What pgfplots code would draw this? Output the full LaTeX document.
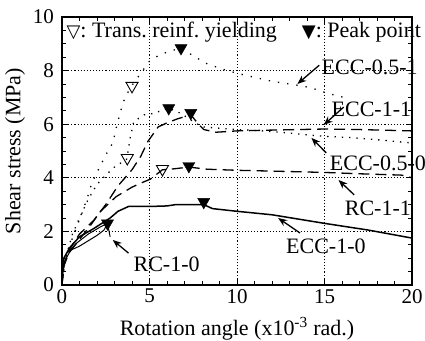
\documentclass[border=0pt]{standalone}
\usepackage{pgfplots}
\pgfplotsset{compat=1.18}
\usepackage{fontspec}
\setmainfont{Liberation Serif}
\newfontfamily\symf{DejaVu Sans}
\usetikzlibrary{arrows.meta}
\begin{document}
\frenchspacing
\fontsize{22bp}{26bp}\selectfont
\begin{tikzpicture}
\begin{axis}[
  scale only axis, width=350bp, height=268bp,
  xmin=0, xmax=20, ymin=0, ymax=10,
  xtick={0,5,10,15,20}, ytick={0,2,4,6,8,10},
  minor x tick num=4, minor y tick num=3,
  xtick pos=both, ytick pos=both, tick align=inside,
  major tick length=6bp, minor tick length=4bp,
  grid=major,
  major grid style={black, line width=0.7bp, dash pattern=on 1.1bp off 2bp},
  axis line style={line width=1.1bp},
  every tick/.style={black, line width=0.9bp},
  /pgf/number format/assume math mode=true,
  tick label style={font=\fontsize{21bp}{24bp}\selectfont},
  xticklabel style={inner sep=4bp},
  yticklabel style={inner sep=4bp, xshift=-4bp},
  xlabel={Rotation angle (x10\textsuperscript{-3} rad.)},
  ylabel={Shear stress (MPa)},
  x label style={at={([yshift=-50bp]axis description cs:0.5,0)}, anchor=base},
  y label style={at={([xshift=-47bp]axis description cs:0,0.5)}, anchor=center},
  clip=false,
]
% ECC-0.5-1 (sparse dotted)
\addplot[black, line width=1.3bp, dash pattern=on 1.3bp off 8bp] coordinates {
(0,0)(0.1,0.7)(0.3,1.2)(0.65,1.85)(1.1,2.6)(1.5,3.36)(1.7,3.8)(2.0,4.2)(2.5,4.85)(2.9,5.3)(3.15,6.0)(3.4,6.6)(3.6,7.0)(4.0,7.45)(4.5,7.9)(5.0,8.35)(5.6,8.6)(6.8,8.85)(7.5,8.55)(8.3,8.25)(9.2,8.05)(10,7.9)(11,7.75)(12,7.6)(13,7.5)(13.8,7.42)(14.5,7.3)(15.2,7.15)(16.4,6.95)};
% ECC-0.5-0 (dotted)
\addplot[black, line width=1.3bp, dash pattern=on 1.3bp off 6bp] coordinates {
(0,0)(0.2,1.0)(0.6,1.9)(1.0,2.5)(1.5,3.2)(2.0,3.75)(2.5,4.1)(3.0,4.4)(3.7,4.7)(3.9,5.5)(4.1,6.1)(4.7,6.35)(5.2,6.4)(6.1,6.6)(6.8,6.4)(7.5,6.1)(8,5.9)(9,5.85)(10,5.8)(11.5,5.75)(13,5.67)(14,5.6)(15,5.55)(16.5,5.5)(18,5.42)(20,5.3)};
% ECC-1-1 (dashed)
\addplot[black, line width=1.3bp, dash pattern=on 11bp off 6bp] coordinates {
(0,0)(0.1,0.8)(0.4,1.3)(1.0,1.9)(1.8,2.4)(2.5,3.0)(3.2,3.7)(4.0,4.3)(4.5,4.8)(4.9,5.35)(5.5,5.9)(6.0,6.05)(6.6,6.2)(7.36,6.35)(7.8,6.0)(8.1,5.8)(8.8,5.7)(10,5.75)(12,5.78)(15,5.82)(17,5.8)(20,5.75)};
% RC-1-1 (dashed)
\addplot[black, line width=1.3bp, dash pattern=on 11bp off 6bp] coordinates {
(0,0)(0.1,0.7)(0.4,1.2)(1,1.7)(1.6,2.2)(2.2,2.75)(3.1,3.3)(4.0,3.65)(4.5,3.8)(5.05,3.95)(5.74,4.3)(6.2,4.32)(7.25,4.4)(8.3,4.32)(10,4.28)(12,4.25)(15,4.2)(17,4.15)(19.4,4.1)(20,4.0)};
% ECC-1-0 (solid)
\addplot[black, line width=1.5bp] coordinates {
(0,0)(0.05,0.6)(0.1,1.0)(0.45,1.4)(1.0,1.8)(1.8,2.1)(2.75,2.5)(3.2,2.75)(3.8,2.93)(5,2.93)(6,2.95)(6.5,3.0)(8.1,3.0)(8.6,2.85)(10,2.75)(12,2.62)(15,2.3)(17.5,2.05)(20,1.75)};
% RC-1-0 (thin solid, two branches)
\addplot[black, line width=1.0bp] coordinates {
(0,0)(0.05,0.5)(0.2,0.95)(0.5,1.3)(1.0,1.45)(1.5,1.65)(2.0,1.85)(2.4,2.05)(2.6,2.3)(2.75,1.8)};
\addplot[black, line width=1.0bp] coordinates {
(0.3,1.2)(0.85,1.57)(1.5,1.9)(2.2,2.17)(2.6,2.3)};
% markers
\addplot[only marks, mark=triangle, mark size=7bp, mark options={rotate=180, fill=white, line width=0.9bp, black}] coordinates {
(4.0,7.43)(3.73,4.74)(5.74,4.33)};
\addplot[only marks, mark=triangle*, mark size=7bp, mark options={rotate=180, fill=black, black}] coordinates {
(6.8,8.84)(6.1,6.6)(7.36,6.42)(7.25,4.44)(8.1,3.1)(2.6,2.3)};
% legend text
\node[anchor=base west, inner sep=0pt] at (axis cs:0.25,9.25) {{\symf\fontsize{18bp}{18bp}\selectfont ▽}: Trans. reinf. yielding};
\node[anchor=base west, inner sep=0pt] at (axis cs:13.7,9.25) {{\symf\fontsize{18bp}{18bp}\selectfont ▼}: Peak point};
% annotations
\begin{scope}[every node/.style={anchor=base west, inner sep=0pt, font=\fontsize{22bp}{26bp}\selectfont}]
\node at (axis cs:14.83,7.84) {ECC-0.5-1};
\node at (axis cs:15.4,6.27) {ECC-1-1};
\node at (axis cs:15.3,4.29) {ECC-0.5-0};
\node at (axis cs:16.15,2.61) {RC-1-1};
\node at (axis cs:12.8,1.19) {ECC-1-0};
\node at (axis cs:4.08,0.49) {RC-1-0};
\end{scope}
\begin{scope}[-{Stealth[length=9bp,width=7bp]}, line width=1.3bp]
\draw (axis cs:14.7,8.2) -- (axis cs:13.45,7.5);
\draw (axis cs:16.1,6.64) -- (axis cs:14.95,5.97);
\draw (axis cs:15.1,4.93) -- (axis cs:14.25,5.49);
\draw (axis cs:16.7,3.36) -- (axis cs:15.8,3.92);
\draw (axis cs:13.6,1.94) -- (axis cs:12.35,2.5);
\draw (axis cs:3.8,1.19) -- (axis cs:2.9,1.68);
\end{scope}
\coordinate (SW) at (rel axis cs:0,0);
\coordinate (NE) at (rel axis cs:1,1);
\end{axis}
\pgfresetboundingbox
\path ([shift={(-62bp,-56bp)}]SW) rectangle ([shift={(13bp,17bp)}]NE);
\end{tikzpicture}
\end{document}
